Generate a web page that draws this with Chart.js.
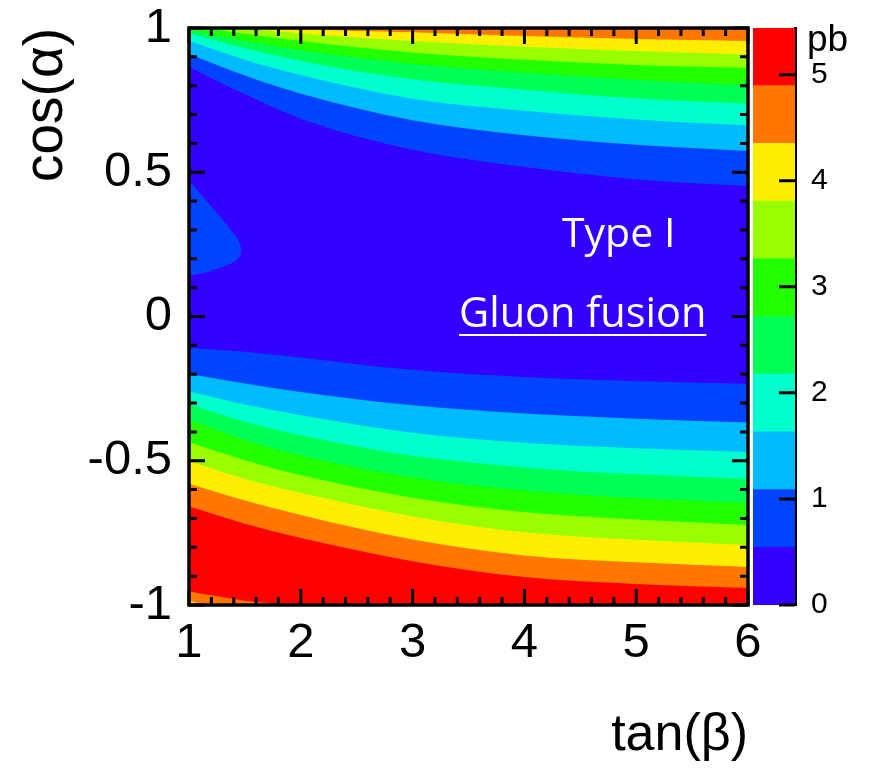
<!DOCTYPE html>
<html>
<head>
<meta charset="utf-8">
<script src="https://cdn.jsdelivr.net/npm/chart.js@4.4.1/dist/chart.umd.min.js"></script>
<style>
  html, body { margin: 0; padding: 0; background: #fff; }
  #wrap { position: relative; width: 877px; height: 773px; overflow: hidden; }
  #main { position: absolute; left: 0; top: 0; }
  #bar { position: absolute; left: 740px; top: 0; }
  .note { position: absolute; color: #fff; font-family: 'Open Sans', sans-serif; font-size: 41px; line-height: 41px; white-space: nowrap; }
  #unit { position: absolute; left: 807px; top: 20px; font-family: 'Liberation Sans', Arial, sans-serif; font-size: 37px; line-height: 37px; color: #000; }
</style>
</head>
<body>
<div id="wrap">
  <canvas id="main" width="877" height="773"></canvas>
  <canvas id="bar" width="137" height="773"></canvas>
  <div class="note" style="left:562px; top:211px;">Type I</div>
  <div class="note" style="left:459px; top:291px; font-size:41.5px; text-decoration: underline; text-decoration-thickness: 2px; text-underline-offset: 7px;">Gluon fusion</div>
  <div id="unit">pb</div>
</div>
<script>
// colour levels of the z axis (pb)
const levels = [0, 0.544, 1.088, 1.632, 2.176, 2.72, 3.264, 3.808, 4.352, 4.896, 5.44];
const bandColors = ['#3300ff', '#0044ff', '#00bbff', '#00ffcc', '#00ff55', '#22ff00', '#99ff00', '#ffee00', '#ff7700', '#ff0000'];
const barTicks = [0, 1, 2, 3, 4, 5];

// tan(beta) where the contour lines were read
const tanB = [1, 1.5, 2, 3, 4, 5, 6];

// upper contours, cos(alpha) (values above 1 are outside the frame)
const upOrangeYellow = [1.06, 1.03, 1.00, 0.985, 0.972, 0.962, 0.955];
const upYellowLime   = [1.03, 1.00, 0.982, 0.955, 0.935, 0.920, 0.908];
const upLimeGreen    = [1.01, 0.98, 0.955, 0.915, 0.890, 0.872, 0.862];
const upGreenSpring  = [0.995, 0.955, 0.923, 0.875, 0.845, 0.820, 0.802];
const upSpringAqua   = [0.982, 0.930, 0.886, 0.822, 0.786, 0.756, 0.738];
const upAquaSky      = [0.955, 0.890, 0.837, 0.755, 0.713, 0.683, 0.662];
const upSkyBlue      = [0.910, 0.835, 0.772, 0.680, 0.628, 0.595, 0.574];
const upBlueViolet   = [0.865, 0.770, 0.685, 0.578, 0.518, 0.475, 0.452];

// lower contours
const loVioletBlue   = [-0.108, -0.122, -0.142, -0.185, -0.210, -0.224, -0.233];
const loBlueSky      = [-0.199, -0.232, -0.262, -0.308, -0.336, -0.354, -0.367];
const loSkyAqua      = [-0.259, -0.305, -0.342, -0.403, -0.438, -0.457, -0.470];
const loAquaSpring   = [-0.304, -0.365, -0.412, -0.483, -0.523, -0.547, -0.563];
const loSpringGreen  = [-0.357, -0.428, -0.482, -0.558, -0.603, -0.629, -0.646];
const loGreenLime    = [-0.436, -0.498, -0.550, -0.628, -0.678, -0.704, -0.723];
const loLimeYellow   = [-0.501, -0.563, -0.612, -0.693, -0.748, -0.774, -0.792];
const loYellowOrange = [-0.580, -0.638, -0.688, -0.773, -0.828, -0.852, -0.868];
const loOrangeRed    = [-0.659, -0.718, -0.768, -0.848, -0.903, -0.927, -0.941];

// bottom-left corner, where the cross-section falls again
const tanBCorner = [1, 1.25, 1.5, 2, 2.5];
const cornerRedOrange    = [-0.952, -0.970, -0.985, -1.000, -1.010];
const cornerOrangeYellow = [-0.985, -1.010, -1.030, -1.050, -1.070];

// small island at low tan(beta)
const tanBLobe = [1, 1.2, 1.35, 1.43, 1.46, 1.47];
const lobeTop    = [0.471, 0.381, 0.313, 0.272, 0.246, 0.228];
const lobeBottom = [0.141, 0.158, 0.180, 0.197, 0.212, 0.228];

const [cViolet, cBlue, cSky, cAqua, cSpring, cGreen, cLime, cYellow, cOrange, cRed] = bandColors;

function contour(xs, ys, fill, color) {
  return {
    data: xs.map((x, i) => ({ x: x, y: ys[i] })),
    fill: fill,
    backgroundColor: color,
    borderWidth: 0,
    pointRadius: 0,
    cubicInterpolationMode: 'monotone'
  };
}

// first dataset is drawn on top
const datasets = [
  contour(tanBLobe, lobeTop, '+1', cBlue),
  contour(tanBLobe, lobeBottom, false, cBlue),
  contour(tanBCorner, cornerOrangeYellow, 'start', cYellow),
  contour(tanBCorner, cornerRedOrange, 'start', cOrange),
  contour(tanB, loOrangeRed, 'start', cRed),
  contour(tanB, loYellowOrange, 'start', cOrange),
  contour(tanB, loLimeYellow, 'start', cYellow),
  contour(tanB, loGreenLime, 'start', cLime),
  contour(tanB, loSpringGreen, 'start', cGreen),
  contour(tanB, loAquaSpring, 'start', cSpring),
  contour(tanB, loSkyAqua, 'start', cAqua),
  contour(tanB, loBlueSky, 'start', cSky),
  contour(tanB, loVioletBlue, 'start', cBlue),
  contour(tanB, upOrangeYellow, 'end', cOrange),
  contour(tanB, upYellowLime, 'end', cYellow),
  contour(tanB, upLimeGreen, 'end', cLime),
  contour(tanB, upGreenSpring, 'end', cGreen),
  contour(tanB, upSpringAqua, 'end', cSpring),
  contour(tanB, upAquaSky, 'end', cAqua),
  contour(tanB, upSkyBlue, 'end', cSky),
  contour(tanB, upBlueViolet, 'end', cBlue)
];

const plotBackground = {
  id: 'plotBackground',
  beforeDatasetsDraw(chart) {
    const a = chart.chartArea;
    chart.ctx.save();
    chart.ctx.fillStyle = cViolet;
    chart.ctx.fillRect(a.left, a.top, a.width, a.height);
    chart.ctx.restore();
  }
};

// ROOT style frame with inward ticks on all four sides
const frameTicks = {
  id: 'frameTicks',
  afterDatasetsDraw(chart) {
    const { ctx, chartArea: a, scales } = chart;
    const x = scales.x, y = scales.y;
    ctx.save();
    ctx.strokeStyle = '#000';
    ctx.lineWidth = 3;
    ctx.beginPath();
    for (let i = 0; i <= 25; i++) {
      const px = x.getPixelForValue(x.min + i * 0.2);
      const len = i % 5 === 0 ? 16 : 8;
      ctx.moveTo(px, a.bottom); ctx.lineTo(px, a.bottom - len);
      ctx.moveTo(px, a.top); ctx.lineTo(px, a.top + len);
    }
    for (let i = 0; i <= 20; i++) {
      const py = y.getPixelForValue(y.min + i * 0.1);
      const len = i % 5 === 0 ? 16 : 8;
      ctx.moveTo(a.left, py); ctx.lineTo(a.left + len, py);
      ctx.moveTo(a.right, py); ctx.lineTo(a.right - len, py);
    }
    ctx.stroke();
    ctx.lineWidth = 3.5;
    ctx.strokeRect(a.left, a.top, a.width, a.height);
    ctx.restore();
  }
};

const sans = "'Liberation Sans', Arial, sans-serif";
const tickFont = { family: sans, size: 49 };

const mainChart = new Chart(document.getElementById('main'), {
  type: 'line',
  data: { datasets: datasets },
  options: {
    responsive: false,
    animation: false,
    layout: { padding: { top: 28, right: 129, left: 0, bottom: 0 } },
    plugins: { legend: { display: false }, tooltip: { enabled: false } },
    scales: {
      x: {
        type: 'linear', min: 1, max: 6,
        ticks: { stepSize: 1, color: '#000', font: tickFont, padding: 1, maxRotation: 0 },
        grid: { display: false }, border: { display: false },
        title: { display: true, text: 'tan(β)', align: 'end', color: '#000',
                 font: { family: sans, size: 52 }, padding: { bottom: 6 } },
        afterFit: s => { s.height = 168; s.paddingLeft = 0; s.paddingRight = 0; }
      },
      y: {
        type: 'linear', min: -1, max: 1,
        ticks: { stepSize: 0.5, color: '#000', font: tickFont, padding: 9,
                 callback: v => String(Math.round(v * 10) / 10) },
        grid: { display: false }, border: { display: false },
        title: { display: true, text: 'cos(α)', align: 'end', color: '#000',
                 font: { family: sans, size: 55 }, padding: { top: 14 } },
        afterFit: s => { s.width = 189; s.paddingTop = 0; s.paddingBottom = 0; }
      }
    }
  },
  plugins: [plotBackground, frameTicks]
});

// colour bar
const barTickMarks = {
  id: 'barTickMarks',
  afterDatasetsDraw(chart) {
    const { ctx, chartArea: a, scales } = chart;
    ctx.save();
    ctx.strokeStyle = '#000';
    ctx.lineWidth = 3;
    ctx.beginPath();
    barTicks.forEach(v => {
      const py = scales.y.getPixelForValue(v);
      ctx.moveTo(a.right, py); ctx.lineTo(a.right - 16, py);
    });
    ctx.stroke();
    ctx.restore();
  }
};

new Chart(document.getElementById('bar'), {
  type: 'bar',
  data: {
    labels: ['z'],
    datasets: bandColors.map((c, i) => ({
      data: [levels[i + 1] - levels[i]],
      backgroundColor: c,
      borderWidth: 0,
      barPercentage: 1,
      categoryPercentage: 1
    }))
  },
  options: {
    responsive: false,
    animation: false,
    layout: { padding: { top: 28, left: 13, bottom: 168, right: 0 } },
    plugins: { legend: { display: false }, tooltip: { enabled: false } },
    scales: {
      x: { stacked: true, display: false },
      y: {
        stacked: true, position: 'right', min: 0, max: levels[levels.length - 1],
        afterBuildTicks: s => { s.ticks = barTicks.map(v => ({ value: v })); },
        ticks: { color: '#000', font: { family: sans, size: 30 }, padding: 8 },
        grid: { display: false },
        border: { display: true, color: '#000', width: 3 },
        afterFit: s => { s.width = 82; s.paddingTop = 0; s.paddingBottom = 0; }
      }
    }
  },
  plugins: [barTickMarks]
});
</script>
</body>
</html>
